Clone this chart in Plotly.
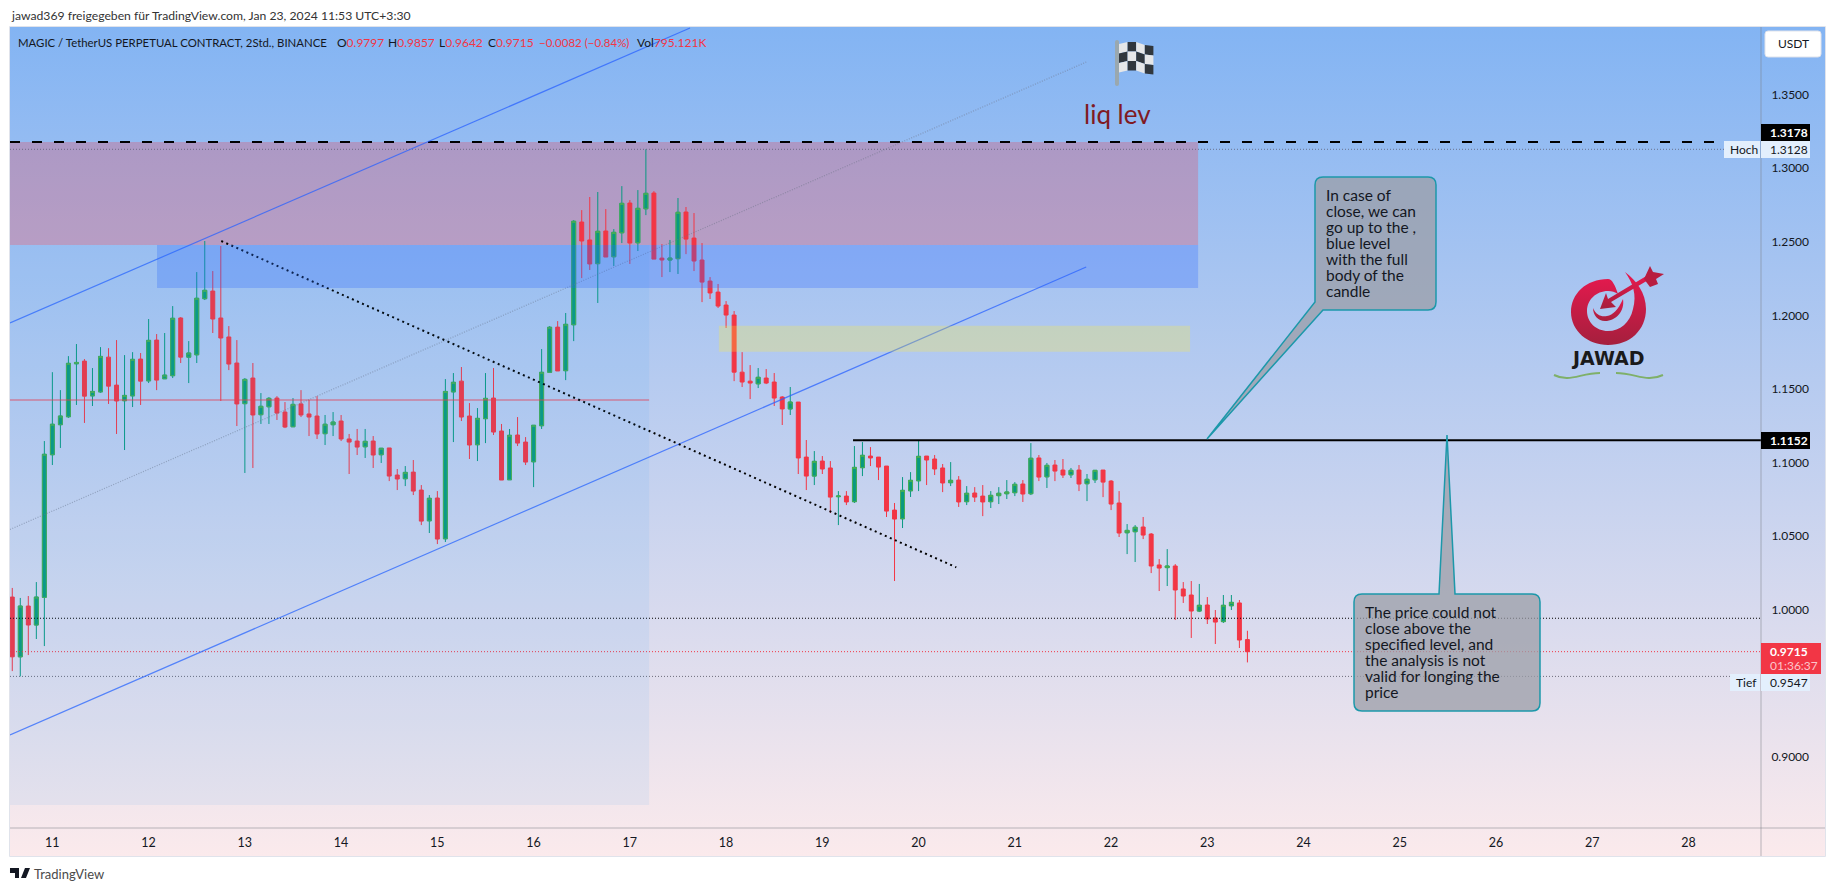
import base64
import pandas as pd
import plotly.graph_objects as go

W, H = 1835, 891
# the page body keeps its 8px margin, so the figure sits inside it
FW, FH = W - 8, H - 8
FONT = "Lato"
INK = "#131722"
RED = "#f23645"
TEAL = "#089981"

# 2h candles
OPEN = [1.0086,.9680,1.0025,.9896,1.0084,1.1053,1.1257,1.1311,1.1671,1.1689,
1.1453,1.1480,1.1716,1.1526,1.1420,1.1453,1.1703,1.1555,1.1832,1.1569,
1.1590,1.1982,1.1716,1.1732,1.2113,1.2165,1.1982,1.1853,1.1676,1.1400,
1.1574,1.1325,1.1379,1.1438,1.1343,1.1243,1.1398,1.1330,1.1316,1.1196,
1.1257,1.1282,1.1160,1.1146,1.1107,1.1146,1.1053,1.1099,1.0915,1.0890,
1.0935,1.0813,1.0604,1.0759,1.0482,1.1480,1.1553,1.1316,1.1121,1.1298,
1.1438,1.1214,1.0883,1.1187,1.1139,1.1005,1.1250,1.1613,1.1920,1.1624,
1.1936,1.2634,1.2512,1.2351,1.2573,1.2398,1.2561,1.2763,1.2493,1.2724,
1.2831,1.2389,1.2376,1.2385,1.2702,1.2525,1.2376,1.2233,1.2158,1.2070,
1.2002,1.1614,1.1553,1.1535,1.1574,1.1547,1.1445,1.1364,1.1411,1.1037,
1.0908,1.1010,1.0963,1.0768,1.0772,1.0734,1.0965,1.1044,1.1037,1.0976,
1.0677,1.0618,1.0808,1.0876,1.1044,1.1024,1.0963,1.0863,1.0881,1.0734,
1.0793,1.0772,1.0734,1.0775,1.0788,1.0795,1.0854,1.0788,1.1031,1.0903,
1.0983,1.0949,1.0917,1.0949,1.0856,1.0883,1.0949,1.0874,1.0725,1.0523,
1.0530,1.0562,1.0514,1.0304,1.0286,1.0297,1.0141,1.0100,.9991,1.0032,
.9944,.9919,1.0027,1.0046,.9797]
HIGH = [1.0148,1.0080,1.0093,1.0188,1.1146,1.1614,1.1492,1.1723,1.1805,1.1703,
1.1642,1.1784,1.1777,1.1832,1.1730,1.1750,1.1744,1.1975,1.1873,1.1880,
1.2063,1.1988,1.1825,1.2294,1.2505,1.2301,1.2471,1.1927,1.1832,1.1574,
1.1676,1.1472,1.1445,1.1451,1.1411,1.1438,1.1492,1.1425,1.1451,1.1323,
1.1343,1.1323,1.1194,1.1228,1.1228,1.1180,1.1099,1.1099,1.0956,1.0976,
1.1017,1.0847,1.0779,1.0806,1.1567,1.1608,1.1649,1.1404,1.1370,1.1608,
1.1642,1.1262,1.1228,1.1309,1.1173,1.1255,1.1771,1.1927,1.1961,1.2016,
1.2647,1.2715,1.2804,1.2838,1.2722,1.2586,1.2878,1.2783,1.2851,1.3128,
1.2844,1.2484,1.2512,1.2797,1.2736,1.2695,1.2491,1.2260,1.2213,1.2097,
1.2029,1.1750,1.1662,1.1642,1.1635,1.1608,1.1451,1.1513,1.1411,1.1153,
1.1078,1.1044,1.1010,1.0806,1.0806,1.1112,1.1139,1.1105,1.1037,1.0976,
1.0725,1.0901,1.0935,1.1152,1.1044,1.1051,1.0990,1.1003,1.0908,1.0840,
1.0833,1.0847,1.0806,1.0833,1.0881,1.0867,1.0881,1.1132,1.1051,1.0997,
1.1017,1.1024,1.0963,1.0983,1.0922,1.0949,1.0949,1.0881,1.0806,1.0582,
1.0575,1.0630,1.0521,1.0344,1.0412,1.0310,1.0188,1.0195,1.0175,1.0086,
.9998,1.0100,1.0100,1.0066,.9857]
LOW = [.9583,.9547,.9692,.9801,.9753,1.0983,1.1099,1.1303,1.1391,1.1269,
1.1384,1.1474,1.1398,1.1194,1.1085,1.1377,1.1391,1.1540,1.1492,1.1569,
1.1574,1.1676,1.1540,1.1676,1.2104,1.1880,1.1418,1.1628,1.1248,1.0929,
1.0963,1.1262,1.1262,1.1289,1.1234,1.1241,1.1309,1.1180,1.1160,1.1119,
1.1180,1.1146,1.0922,1.1051,1.1031,1.0963,1.0997,1.0874,1.0813,1.0840,
1.0779,1.0575,1.0521,1.0446,1.0460,1.1139,1.1282,1.1024,1.1010,1.1132,
1.1187,1.0881,1.0883,1.1112,1.0983,1.0833,1.1228,1.1613,1.1622,1.1560,
1.1825,1.2253,1.2308,1.2084,1.2396,1.2335,1.2491,1.2349,1.2437,1.2681,
1.2382,1.2260,1.2294,1.2281,1.2416,1.2301,1.2090,1.2111,1.2050,1.1914,
1.1553,1.1513,1.1431,1.1506,1.1533,1.1384,1.1255,1.1323,1.0922,1.0813,
1.0847,1.0922,1.0657,1.0575,1.0711,1.0725,1.0908,1.0976,1.0881,1.0630,
1.0195,1.0555,1.0766,1.0806,1.0847,1.0915,1.0799,1.0840,1.0698,1.0711,
1.0732,1.0636,1.0691,1.0718,1.0752,1.0772,1.0732,1.0779,1.0874,1.0827,
1.0874,1.0895,1.0895,1.0806,1.0738,1.0861,1.0765,1.0677,1.0494,1.0378,
1.0324,1.0480,1.0249,1.0127,1.0161,.9930,1.0046,.9808,.9984,.9903,
.9767,.9910,.9998,.9740,.9642]
CLOSE = [.9680,1.0025,.9896,1.0086,1.1056,1.1260,1.1316,1.1674,1.1680,1.1451,
1.1483,1.1721,1.1519,1.1418,1.1456,1.1701,1.1553,1.1830,1.1560,1.1594,
1.1980,1.1716,1.1744,1.2116,1.2170,1.1975,1.1846,1.1669,1.1398,1.1565,
1.1323,1.1382,1.1436,1.1336,1.1241,1.1395,1.1323,1.1309,1.1194,1.1260,
1.1275,1.1160,1.1139,1.1105,1.1144,1.1051,1.1097,1.0908,1.0888,1.0933,
1.0806,1.0602,1.0757,1.0480,1.1483,1.1545,1.1309,1.1119,1.1300,1.1436,
1.1207,1.0881,1.1185,1.1132,1.1003,1.1253,1.1613,1.1919,1.1622,1.1939,
1.2639,1.2505,1.2349,1.2571,1.2396,1.2564,1.2761,1.2491,1.2727,1.2829,
1.2382,1.2376,1.2389,1.2700,1.2518,1.2369,1.2226,1.2152,1.2063,1.2002,
1.1614,1.1547,1.1540,1.1579,1.1540,1.1438,1.1364,1.1411,1.1031,1.0908,
1.1008,1.0956,1.0765,1.0772,1.0732,1.0967,1.1049,1.1031,1.0969,1.0670,
1.0616,1.0811,1.0879,1.1042,1.1017,1.0956,1.0861,1.0879,1.0732,1.0791,
1.0765,1.0732,1.0777,1.0791,1.0800,1.0852,1.0786,1.1029,1.0901,1.0981,
1.0942,1.0915,1.0947,1.0854,1.0886,1.0947,1.0867,1.0718,1.0521,1.0539,
1.0560,1.0507,1.0297,1.0283,1.0297,1.0134,1.0093,.9991,1.0030,.9937,
.9916,1.0030,1.0050,.9794,.9715]

TIMES = pd.date_range("2024-01-10 15:30", periods=len(OPEN), freq="2h")
DAY_TICKS = pd.date_range("2024-01-11 01:30", periods=18, freq="D")
DAY_LABELS = [str(d) for d in range(11, 29)]
PRICE_TICKS = [0.90, 1.00, 1.05, 1.10, 1.15, 1.20, 1.25, 1.30, 1.35]

T_LEFT = "2024-01-10 14:56"
T_RIGHT = "2024-01-28 19:34"
T_ZONE_END = "2024-01-22 23:12"
T_COLUMN_END = "2024-01-17 06:18"

LIQ_LEVEL = 1.3178
SESSION_HIGH = 1.3128
KEY_LEVEL = 1.1152
BLACK_DOT_LEVEL = 0.9942
LAST_PRICE = 0.9715
SESSION_LOW = 0.9547
RED_LEVEL = 1.1425

CHANNEL_X = ["2024-01-10 14:56", "2024-01-17 16:30"]
CHANNEL_UPPER = [1.1948, 1.3952]
CHANNEL_LOWER_X = ["2024-01-10 14:56", "2024-01-21 19:18"]
CHANNEL_LOWER = [0.9149, 1.2328]
CHANNEL_MID = [1.0545, 1.3721]
TREND_X = ["2024-01-12 19:37", "2024-01-20 10:54"]
TREND_Y = [1.2505, 1.0288]

NOTE_1 = ["In case of", "close, we can", "go up to the ,", "blue level",
          "with the full", "body of the", "candle"]
NOTE_2 = ["The price could not", "close above the", "specified level, and",
          "the analysis is not", "valid for longing the", "price"]


def fx(x):
    return (x - 8) / FW


def fy(y):
    return 1 - (y - 8) / FH


def pt(x, y):
    return f"{fx(x):.5f},{fy(y):.5f}"


def svg_uri(svg):
    return "data:image/svg+xml;base64," + base64.b64encode(svg.encode()).decode()


def text(x, y, s, size=12, color=INK, anchor="left", family=FONT):
    fig.add_annotation(xref="paper", yref="paper", x=fx(x), y=fy(y), text=s, showarrow=False,
                       xanchor=anchor, yanchor="middle", borderpad=0,
                       font=dict(size=size, color=color, family=family))


def box(x0, y0, x1, y1, fill):
    fig.add_shape(type="rect", xref="paper", yref="paper", x0=fx(x0), x1=fx(x1), y0=fy(y0), y1=fy(y1),
                  fillcolor=fill, line_width=0, layer="above")


def zone(x0, x1, p0, p1, color, layer="above"):
    fig.add_shape(type="rect", xref="x", yref="y", x0=x0, x1=x1, y0=p0, y1=p1,
                  fillcolor=color, line_width=0, layer=layer)


def level(x, y, color, width=1, dash="solid"):
    fig.add_trace(go.Scatter(x=x, y=y, mode="lines", hoverinfo="skip", showlegend=False,
                             line=dict(color=color, width=width, dash=dash)))


def image(svg, x, y, w, h, layer):
    return dict(source=svg_uri(svg), xref="paper", yref="paper", x=fx(x), y=fy(y), sizex=w / FW, sizey=h / FH,
                sizing="stretch", xanchor="left", yanchor="top", layer=layer)


fig = go.Figure()

fig.add_trace(go.Candlestick(x=TIMES, open=OPEN, high=HIGH, low=LOW, close=CLOSE, showlegend=False,
                             hoverinfo="skip",
                             increasing=dict(line=dict(color=TEAL, width=1), fillcolor=TEAL),
                             decreasing=dict(line=dict(color=RED, width=1), fillcolor=RED)))
# green bodies have a lighter border than their wicks
up = [i for i in range(len(OPEN)) if CLOSE[i] > OPEN[i]]
fig.add_trace(go.Candlestick(x=[TIMES[i] for i in up], open=[OPEN[i] for i in up],
                             high=[CLOSE[i] for i in up], low=[OPEN[i] for i in up],
                             close=[CLOSE[i] for i in up], showlegend=False, hoverinfo="skip",
                             increasing=dict(line=dict(color="#4caf50", width=1), fillcolor=TEAL)))

edges = [T_LEFT, T_RIGHT]
level(edges, [SESSION_HIGH] * 2, "rgba(90,90,110,0.75)", 1, "1px,2px")
level(edges, [BLACK_DOT_LEVEL] * 2, "#000000", 1, "1px,2px")
level(edges, [LAST_PRICE] * 2, RED, 1, "1px,2px")
level(edges, [SESSION_LOW] * 2, "rgba(80,80,95,0.8)", 1, "1px,2px")
level(edges, [LIQ_LEVEL] * 2, "#000000", 2, "10px,12px")
level([T_LEFT, T_COLUMN_END], [RED_LEVEL] * 2, "rgba(242,54,69,0.4)", 2)
level(["2024-01-19 09:09", T_RIGHT], [KEY_LEVEL] * 2, "#000000", 2)
level(CHANNEL_X, CHANNEL_UPPER, "rgba(41,98,255,0.75)", 1.2)
level(CHANNEL_LOWER_X, CHANNEL_LOWER, "rgba(41,98,255,0.75)", 1.2)
level(CHANNEL_LOWER_X, CHANNEL_MID, "rgba(110,115,135,0.5)", 1.2, "1px,1.5px")
level(TREND_X, TREND_Y, "#000000", 2, "2px,3.5px")

zone(T_LEFT, T_ZONE_END, LIQ_LEVEL, 1.2478, "rgba(242,54,69,0.26)", layer="below")
zone("2024-01-12 03:36", T_ZONE_END, 1.2478, 1.2185, "rgba(41,98,255,0.27)")
zone("2024-01-17 23:42", "2024-01-22 21:12", 1.1929, 1.1753, "rgba(255,235,59,0.27)")
zone(T_LEFT, T_COLUMN_END, 1.2478, 0.8673, "rgba(33,150,243,0.08)")

# chart frame and axis lines
fig.add_shape(type="rect", xref="paper", yref="paper", x0=fx(9.5), x1=fx(1825.5), y0=fy(26.5), y1=fy(856.5),
              line=dict(color="#e0e3eb", width=1), layer="above")
fig.add_shape(type="line", xref="paper", yref="paper", x0=fx(1761), x1=fx(1761), y0=fy(27), y1=fy(856),
              line=dict(color="rgba(120,123,134,0.5)", width=1), layer="above")
fig.add_shape(type="line", xref="paper", yref="paper", x0=fx(10), x1=fx(1825), y0=fy(828), y1=fy(828),
              line=dict(color="rgba(120,123,134,0.5)", width=1), layer="above")

# callouts
NOTE_FILL = "rgba(155,158,167,0.75)"
NOTE_LINE = dict(color="#1c98aa", width=1.5)
x0, y0, x1, y1, r = 1315, 177, 1436, 310, 8
fig.add_shape(type="path", xref="paper", yref="paper", fillcolor=NOTE_FILL, line=NOTE_LINE, layer="above",
              path=f"M{pt(x0 + r, y0)} L{pt(x1 - r, y0)} Q{pt(x1, y0)} {pt(x1, y0 + r)} L{pt(x1, y1 - r)} "
                   f"Q{pt(x1, y1)} {pt(x1 - r, y1)} L{pt(1323, y1)} L{pt(1207, 439)} L{pt(x0, 302)} "
                   f"L{pt(x0, y0 + r)} Q{pt(x0, y0)} {pt(x0 + r, y0)} Z")
x0, y0, x1, y1, r = 1354, 594, 1540, 711, 8
fig.add_shape(type="path", xref="paper", yref="paper", fillcolor=NOTE_FILL, line=NOTE_LINE, layer="above",
              path=f"M{pt(x0 + r, y0)} L{pt(1439, y0)} L{pt(1447, 435)} L{pt(1455, y0)} L{pt(x1 - r, y0)} "
                   f"Q{pt(x1, y0)} {pt(x1, y0 + r)} L{pt(x1, y1 - r)} Q{pt(x1, y1)} {pt(x1 - r, y1)} "
                   f"L{pt(x0 + r, y1)} Q{pt(x0, y1)} {pt(x0, y1 - r)} L{pt(x0, y0 + r)} "
                   f"Q{pt(x0, y0)} {pt(x0 + r, y0)} Z")
for i, s in enumerate(NOTE_1):
    text(1325, 195 + 16 * i, s, 15.5)
for i, s in enumerate(NOTE_2):
    text(1364, 612 + 16 * i, s, 15.5)

# price scale labels
fig.add_shape(type="path", xref="paper", yref="paper", fillcolor="#ffffff", layer="above",
              line=dict(color="#e0e3eb", width=1),
              path=f"M{pt(1768, 31)} L{pt(1818, 31)} Q{pt(1821, 31)} {pt(1821, 34)} L{pt(1821, 54)} "
                   f"Q{pt(1821, 57)} {pt(1818, 57)} L{pt(1768, 57)} Q{pt(1765, 57)} {pt(1765, 54)} "
                   f"L{pt(1765, 34)} Q{pt(1765, 31)} {pt(1768, 31)} Z")
text(1793, 44, "USDT", 12, anchor="center")
box(1761, 124, 1810, 141, "#000000")
text(1769, 132.5, "<b>1.3178</b>", 12, "#ffffff")
box(1724, 141, 1760, 158, "#e3effd")
box(1761, 141, 1810, 158, "#e3effd")
text(1729, 149.5, "Hoch", 12)
text(1769, 149.5, "1.3128", 12)
box(1761, 432, 1810, 449, "#000000")
text(1769, 440.5, "<b>1.1152</b>", 12, "#ffffff")
box(1761, 643, 1821, 674, RED)
text(1769, 651.5, "<b>0.9715</b>", 12, "#ffffff")
text(1769, 665, "01:36:37", 12, "#fbc5ca")
box(1730, 674, 1760, 691, "#e3effd")
box(1761, 674, 1810, 691, "#e3effd")
text(1735, 682.5, "Tief", 12)
text(1769, 682.5, "0.9547", 12)

# header and legend row
text(10, 15, "jawad369 freigegeben für TradingView.com, Jan 23, 2024 11:53 UTC+3:30", 12.2, "#333333")
text(17, 42, "MAGIC / TetherUS PERPETUAL CONTRACT, 2Std., BINANCE", 11.4)
for x, label, value in [(336, "O", "0.9797"), (387, "H", "0.9857"), (438, "L", "0.9642"), (487, "C", "0.9715")]:
    text(x, 42, f'{label}<span style="color:{RED}">{value}</span>', 12)
text(538, 42, "−0.0082 (−0.84%)", 11.5, RED)
text(636, 42, f'Vol<span style="color:{RED}">795.121K</span>', 12)
text(1117, 114, "liq lev", 26, "#801922", anchor="center")
text(33, 874, "TradingView", 13, "#4a4a4a")
fig.add_shape(type="path", xref="paper", yref="paper", fillcolor="#131722", line_width=0, layer="above",
              path=f"M{pt(10, 868)} L{pt(19, 868)} L{pt(19, 878)} L{pt(15, 878)} L{pt(15, 873)} L{pt(10, 873)} Z "
                   f"M{pt(25, 868)} L{pt(30, 868)} L{pt(26, 878)} L{pt(21, 878)} Z")

# logo and flag artwork
flag_cells = ""
wave = [2, 0, 0, 3, 4]
for col in range(4):
    for row in range(3):
        shade = "#31373d" if (row + col) % 2 else "#e6e7e8"
        xa, xb = 5 + col * 8.6, 5 + (col + 1) * 8.6
        ya, yb = 3 + wave[col] + row * 9.5, 3 + wave[col + 1] + row * 9.5
        flag_cells += (f'<polygon fill="{shade}" points="{xa},{ya} {xb},{yb} {xb},{yb + 9.5} {xa},{ya + 9.5}"/>')
flag_svg = ('<svg xmlns="http://www.w3.org/2000/svg" width="40" height="50" viewBox="0 0 40 50">'
            '<rect x="1" y="1" width="4" height="46" rx="2" fill="#9aa8af"/>' + flag_cells + '</svg>')
logo_svg = ('<svg xmlns="http://www.w3.org/2000/svg" width="140" height="130" viewBox="0 0 140 130">'
            '<defs><linearGradient id="g" x1="0" y1="0" x2="0" y2="1">'
            '<stop offset="0" stop-color="#e8194f"/><stop offset="1" stop-color="#a51f3d"/></linearGradient></defs>'
            '<path fill="url(#g)" fill-rule="evenodd" d="M68 24 C46 24 31 39 31 57 C31 76 48 90 68 90 '
            'C90 90 106 75 106 54 C106 38 96 25 85 17 C93 28 97 40 93 54 C90 68 80 76 68 76 '
            'C56 76 47 67 47 56 C47 45 56 36 68 36 C72 36 75 37 78 39 C75 30 72 24 68 24 Z"/>'
            '<path fill="url(#g)" d="M53 53 C56 60 61 62 67 61 C73 60 78 55 83 44 C85 56 76 66 65 66 C58 66 53 60 53 53 Z"/>'
            '<path fill="url(#g)" d="M60 54 L66 38 L68 44 L108 20 L110 24 L71 47 L76 52 Z"/>'
            '<path fill="#b81d40" d="M104 24 L110 11 L113 17 L124 19 L116 24 L118 29 L110 32 Z"/>'
            '<path d="M14 120 C30 128 40 118 60 118" stroke="#7fb069" stroke-width="2" fill="none"/>'
            '<path d="M76 118 C96 118 106 128 123 120" stroke="#7fb069" stroke-width="2" fill="none"/></svg>')
gradient_svg = ('<svg xmlns="http://www.w3.org/2000/svg" width="10" height="100" preserveAspectRatio="none">'
                '<defs><linearGradient id="bg" x1="0" y1="0" x2="0" y2="1">'
                '<stop offset="0" stop-color="#83b4f3"/><stop offset="1" stop-color="#fbeaec"/></linearGradient></defs>'
                '<rect width="10" height="100" fill="url(#bg)"/></svg>')
text(1608, 358, "<b>JAWAD</b>", 19, "#1a1a1a", anchor="center", family="DejaVu Sans")

fig.update_layout(
    width=FW, height=FH, margin=dict(l=0, r=0, t=0, b=0, pad=0),
    paper_bgcolor="#ffffff", plot_bgcolor="rgba(0,0,0,0)", showlegend=False, dragmode=False,
    font=dict(family=FONT, color=INK, size=12),
    images=[image(gradient_svg, 10, 27, 1815, 829, "below"),
            image(flag_svg, 1114, 39, 40, 50, "above"),
            image(logo_svg, 1540, 255, 140, 130, "above")],
    xaxis=dict(domain=[fx(10), fx(1761)], range=[T_LEFT, T_RIGHT], type="date", anchor="y",
               rangeslider=dict(visible=False), tickmode="array", tickvals=DAY_TICKS, ticktext=DAY_LABELS,
               showgrid=False, zeroline=False, showline=False, ticks="outside", ticklen=3,
               tickcolor="rgba(0,0,0,0)", tickfont=dict(size=12.5, color=INK)),
    yaxis=dict(domain=[fy(828), fy(27)], range=[0.8517, 1.3959], side="right", anchor="x",
               tickmode="array", tickvals=PRICE_TICKS, tickformat=".4f", showgrid=False, zeroline=False,
               showline=False, ticks="outside", ticklen=7, tickcolor="rgba(0,0,0,0)",
               tickfont=dict(size=12, color=INK)),
)

fig.write_html("out.html")
